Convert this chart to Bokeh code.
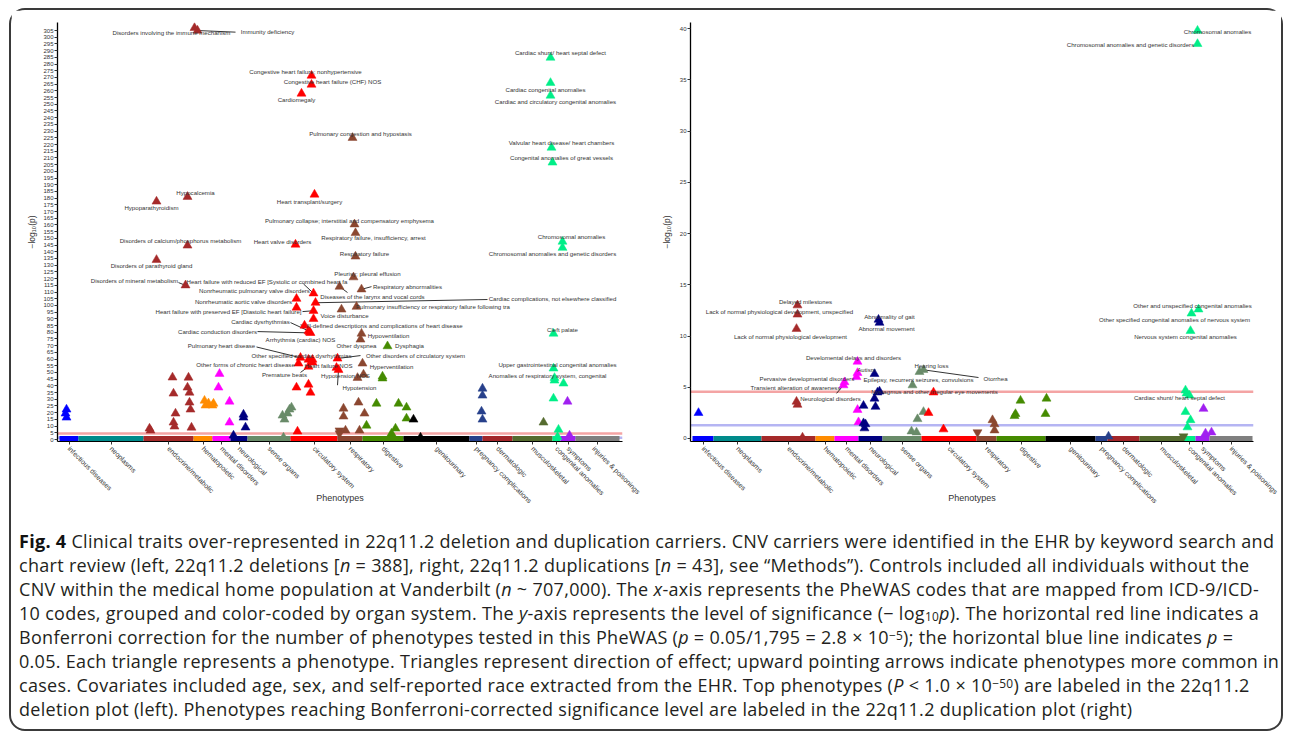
import math
from bokeh.plotting import figure
from bokeh.models import ColumnDataSource, FixedTicker, Span, Div, Range1d
from bokeh.layouts import row, column
from bokeh.embed import file_html
from bokeh.resources import INLINE
from bokeh.core.properties import value

# ---------------- data ----------------
CATEGORIES = ["infectious diseases", "neoplasms", "endocrine/metabolic", "hematopoietic",
              "mental disorders", "neurological", "sense organs", "circulatory system",
              "respiratory", "digestive", "genitourinary", "pregnancy complications",
              "dermatologic", "musculoskeletal", "congenital anomalies", "symptoms",
              "injuries & poisonings"]
CAT_COLORS = ["#0000FF", "#008B8B", "#A52A2A", "#FF8C00", "#FF00FF", "#000080", "#698B69",
              "#FF0000", "#8B4730", "#458B00", "#000000", "#27408B", "#A3262A", "#556B2F",
              "#00EE88", "#A020F0", "#7F7F7F"]

# phenotype-order span of each organ system block (deletion / duplication PheWAS)
DEL_BLOCK_START = [2, 21, 86, 136, 155, 173, 190, 233, 280, 305, 346, 412, 425, 455, 495, 503, 518]
DEL_BLOCK_END = [21, 86, 136, 155, 173, 190, 233, 280, 305, 346, 412, 425, 455, 495, 503, 518, 562]
DUP_BLOCK_START = [2, 23, 71, 125, 144, 168, 192, 231, 286, 306, 355, 405, 417, 449, 493, 505, 519]
DUP_BLOCK_END = [23, 71, 125, 144, 168, 192, 231, 286, 306, 355, 405, 417, 449, 493, 505, 519, 562]

# 22q11.2 deletion: labeled top phenotypes
DEL_TOP_NAMES = [
    "Disorders involving the immune mechanism", "Immunity deficiency",
    "Congestive heart failure; nonhypertensive", "Congestive heart failure (CHF) NOS",
    "Cardiomegaly", "Pulmonary congestion and hypostasis", "Cardiac shunt/ heart septal defect",
    "Cardiac congenital anomalies", "Cardiac and circulatory congenital anomalies",
    "Valvular heart disease/ heart chambers", "Congenital anomalies of great vessels",
    "Hypocalcemia", "Hypoparathyroidism", "Heart transplant/surgery",
    "Pulmonary collapse; interstitial and compensatory emphysema",
    "Respiratory failure, insufficiency, arrest", "Heart valve disorders",
    "Disorders of calcium/phosphorus metabolism", "Chromosomal anomalies",
    "Chromosomal anomalies and genetic disorders", "Disorders of parathyroid gland",
    "Respiratory failure", "Pleurisy; pleural effusion", "Disorders of mineral metabolism",
    "Heart failure with reduced EF [Systolic or combined heart fa", "Respiratory abnormalities",
    "Diseases of the larynx and vocal cords", "Nonrheumatic pulmonary valve disorders",
    "Nonrheumatic aortic valve disorders", "Cardiac complications, not elsewhere classified",
    "Pulmonary insufficiency or respiratory failure following tra",
    "Heart failure with preserved EF [Diastolic heart failure]", "Voice disturbance",
    "Cardiac dysrhythmias", "Ill-defined descriptions and complications of heart disease",
    "Cardiac conduction disorders", "Arrhythmia (cardiac) NOS", "Hypoventilation",
    "Other dyspnea", "Dysphagia", "Pulmonary heart disease",
    "Other specified cardiac dysrhythmias", "Other disorders of circulatory system",
    "Other forms of chronic heart disease", "Heart failure NOS", "Hyperventilation",
    "Premature beats", "Hypotension NOS", "Hypotension", "Cleft palate",
    "Upper gastrointestinal congenital anomalies", "Anomalies of respiratory system, congenital"]
DEL_TOP_POS = [137, 140, 254, 254, 244, 295, 493, 493, 493, 494, 495, 130, 99, 257, 297, 298,
               238, 130, 505, 505, 99, 298, 296, 128, 256, 304, 282, 239, 239, 258, 299, 256,
               284, 251, 247, 253, 252, 304, 303, 330, 243, 255, 280, 241, 255, 305, 251, 279,
               281, 496, 496, 497]
DEL_TOP_LOGP = [307, 305, 271.4, 264.7, 258, 225, 284.8, 266, 256.5, 217.7, 206.6, 181, 177.5,
                182.7, 160.5, 154, 145.4, 144.7, 147.6, 143, 134, 136.5, 121, 115, 109, 112,
                114, 105, 98.4, 102, 99, 96, 97, 81, 85, 79.5, 80, 79, 74.6, 69.6, 61, 59.6,
                60.4, 56.7, 57.5, 56.7, 54.4, 53.5, 52, 79, 53, 46]
DEL_TOP_GROUP = [2, 2, 7, 7, 7, 8, 14, 14, 14, 14, 14, 2, 2, 7, 8, 8, 7, 2, 14, 14, 2, 8, 8, 2,
                 7, 8, 8, 7, 7, 7, 8, 7, 8, 7, 7, 7, 7, 8, 8, 9, 7, 7, 7, 7, 7, 8, 7, 7, 7,
                 14, 14, 14]

# 22q11.2 deletion: remaining phenotypes above the baseline
DEL_OTHER_POS = [9, 9, 8, 92, 93, 115, 116, 118, 116, 117, 131, 130, 132, 132, 133, 134,
                 147, 148, 155, 156, 151, 162, 161, 172, 172, 186, 186, 188, 176,
                 234, 230, 225, 227, 232, 226, 239, 251, 253, 240, 256, 251,
                 286, 286, 301, 307, 302, 288, 282, 282, 300, 306,
                 319, 341, 349, 349, 309, 338, 334, 325, 325, 356, 363,
                 425, 425, 424, 425, 486, 497, 506, 496, 501, 500, 510, 512]
DEL_OTHER_LOGP = [22.4, 16.4, 19.4, 8.2, 6.7, 46.3, 34.3, 19.4, 12.7, 9.7, 46.2, 38.8, 35,
                  27.6, 22.4, 8.9, 29, 25.4, 25.4, 26.8, 27, 49, 38.8, 28.3, 12.7,
                  18.6, 16.4, 9, 3, 23.9, 19.4, 17.9, 14.9, 22.4, 1.5, 38.8, 41, 35, 6, 90, 59.6,
                  23.1, 17.2, 27.6, 19.4, 6.7, 6.7, 6.7, 4.5, 46, 48.5,
                  26.8, 26.8, 23.9, 15.7, 10.4, 8.2, 4.5, 47, 45.6, 14.9, 1.5,
                  38, 32.8, 20.9, 14.9, 12.7, 44, 41.8, 30.6, 7.4, 2, 28.3, 3]
DEL_OTHER_GROUP = [0, 0, 0, 2, 2, 2, 2, 2, 2, 2, 2, 2, 2, 2, 2, 2, 3, 3, 3, 3, 3, 4, 4, 4, 4,
                   5, 5, 5, 5, 6, 6, 6, 6, 6, 6, 7, 7, 7, 7, 7, 7, 8, 8, 8, 8, 8, 8, 8, 8, 8, 8,
                   9, 9, 9, 9, 9, 9, 9, 9, 9, 10, 10, 11, 11, 11, 11, 13, 14, 14, 14, 14, 14,
                   15, 15]
DEL_OTHER_DIR = ["up", "up", "up", "up", "up", "up", "up", "up", "up", "up",
                 "up", "up", "up", "up", "up", "up", "up", "up", "up", "up", "up", "up",
                 "up", "up", "up", "up", "up", "up", "up", "up", "up", "up", "up", "up",
                 "up", "up", "up", "up", "up", "up", "up", "up", "up", "up", "up", "up",
                 "up", "down", "down", "up", "up", "up", "up", "up", "up", "up", "up",
                 "up", "up", "up", "up", "up", "up", "up", "up", "up", "up", "up", "up",
                 "up", "up", "up", "up", "up"]

# 22q11.2 duplication: Bonferroni-significant (labeled) phenotypes
DUP_TOP_NAMES = [
    "Chromosomal anomalies", "Chromosomal anomalies and genetic disorders", "Delayed milestones",
    "Lack of normal physiological development, unspecified",
    "Lack of normal physiological development", "Abnormality of gait", "Abnormal movement",
    "Develomental delays and disorders", "Autism", "Pervasive developmental disorders",
    "Hearing loss", "Otorrhea", "Epilepsy, recurrent seizures, convulsions",
    "Transient alteration of awareness", "Neurological disorders",
    "Nystagmus and other irregular eye movements", "Other and unspecified congenital anomalies",
    "Other specified congenital anomalies of nervous system",
    "Nervous system congenital anomalies", "Cardiac shunt/ heart septal defect"]
DUP_TOP_POS = [507, 507, 107, 107, 106, 188, 189, 167, 167, 166, 229, 233, 184, 154, 153, 187,
               508, 501, 500, 495]
DUP_TOP_LOGP = [39.8, 38.5, 13, 12.1, 10.7, 11.6, 11.3, 7.5, 6.4, 6.0, 6.5, 6.7, 6.3, 5.5, 5.2,
                4.5, 12.6, 12.2, 10.5, 4.7]
DUP_TOP_GROUP = [14, 14, 2, 2, 2, 5, 5, 4, 4, 4, 6, 6, 5, 4, 4, 5, 14, 14, 14, 14]

DUP_OTHER_POS = [8, 106, 107, 112, 167, 168, 173, 184, 185, 173, 174, 175, 189,
                 233, 227, 221, 226, 222, 238, 253, 243, 302, 304, 304, 287,
                 330, 325, 324, 356, 355, 418, 493, 495, 500, 497, 496, 499, 513, 515, 521]
DUP_OTHER_LOGP = [2.5, 3.6, 3.3, 0.1, 2.8, 1.6, 3.2, 3.9, 3.1, 1.5, 1.0, 1.4, 4.6,
                  2.6, 1.9, 0.7, 0.6, 5.2, 2.5, 0.9, 4.5, 1.8, 1.4, 0.8, 0.6,
                  3.7, 2.4, 2.2, 3.9, 2.4, 0.2, 0.2, 2.6, 1.8, 1.1, 4.4, 4.2, 2.9, 0.5, 0.6]
DUP_OTHER_GROUP = [0, 2, 2, 2, 4, 4, 5, 5, 5, 5, 5, 5, 5, 6, 6, 6, 6, 6, 7, 7, 7, 8, 8, 8, 8,
                   9, 9, 9, 9, 9, 11, 13, 14, 14, 14, 14, 14, 15, 15, 15]
DUP_OTHER_DIR = ["up", "up", "up", "up", "up", "up", "up", "up", "up", "up", "up", "up", "up",
                 "up", "up", "up", "up", "up", "up", "up", "up", "up", "up", "up", "down",
                 "up", "up", "up", "up", "up", "up", "down", "up", "up", "up", "up", "up",
                 "up", "up", "up"]

DEL_Y_TICKS = list(range(0, 306, 5))
DUP_Y_TICKS = list(range(0, 41, 5))

# significance thresholds
BONFERRONI = -math.log10(0.05 / 1795)
NOMINAL = -math.log10(0.05)

# ---------------- label placement (annotation layout, data units) ----------------
DEL_LABEL_X = [114, 210, 248, 275, 239, 303, 503, 488, 498, 504, 504, 138, 94, 252, 292, 316,
               225, 123, 514, 495, 94, 307, 310, 77, 209.5, 350, 315, 197, 186, 495, 375.5, 171,
               287, 203, 327, 160, 243, 331, 299, 352, 164, 244, 358, 188, 271, 334, 227, 288,
               302, 505, 500, 490]
DEL_LABEL_Y = [303.5, 304.3, 274.4, 267, 253.5, 228.2, 288.6, 261, 252, 221.5, 210.3, 184.2, 173,
               177.5, 163.3, 150.6, 147.6, 148.4, 151.4, 138.7, 129.8, 138.7, 123.8, 118.6,
               117.8, 114.1, 106.6, 111.1, 102.9, 105.1, 99.2, 95.4, 92.5, 88, 85, 80.5, 74.6,
               77.6, 70.1, 70.1, 70.1, 62.6, 62.6, 55.9, 55.2, 54.4, 48.5, 47.7, 38.8, 82, 55.9,
               47.7]
DEL_LEADER_NAME = ["Immunity deficiency", "Disorders of mineral metabolism",
                   "Heart failure with reduced EF [Systolic or combined heart fa",
                   "Respiratory abnormalities", "Diseases of the larynx and vocal cords",
                   "Cardiac complications, not elsewhere classified",
                   "Heart failure with preserved EF [Diastolic heart failure]",
                   "Cardiac dysrhythmias",
                   "Ill-defined descriptions and complications of heart disease",
                   "Cardiac conduction disorders", "Pulmonary heart disease",
                   "Other disorders of circulatory system", "Premature beats", "Hypotension"]
DEL_LEADER_X = [178, 121, 246, 314, 290, 430, 245, 233, 243, 200, 199, 303, 243, 280]
DEL_LEADER_Y = [303.8, 117, 116, 114, 109.6, 104.4, 95.4, 87.2, 85.5, 80.5, 69, 62.6, 50, 40.5]

DUP_LABEL_X = [527, 440, 115, 89, 100, 199, 196, 163, 176, 116.5, 241, 305, 228, 105, 140, 244,
               502, 484, 495, 489]
DUP_LABEL_Y = [39.7, 38.4, 13.4, 12.4, 10.0, 11.9, 10.7, 7.9, 6.7, 5.85, 7.1, 5.85, 5.75, 5.0,
               3.9, 4.6, 13.0, 11.6, 9.95, 4.0]
DUP_LEADER_NAME = ["Otorrhea", "Neurological disorders"]
DUP_LEADER_X = [288, 146]
DUP_LEADER_Y = [5.95, 4.4]

FONT = "Liberation Sans"
TXT = "#333333"
FRAME_H = 419
FIG_H = 512


def build(width, mb_left, mb_right, x_end, y_lo, y_hi, y_ticks, blk_s, blk_e,
          names, pos, logp, grp, lab_x, lab_y, lead_names, lead_x, lead_y,
          o_pos, o_logp, o_grp, o_dir, ylab_standoff):
    p = figure(width=width, height=FIG_H, x_range=Range1d(0, x_end), y_range=Range1d(y_lo, y_hi),
               output_backend="svg", toolbar_location=None,
               min_border_left=mb_left, min_border_right=mb_right,
               min_border_top=12, min_border_bottom=FIG_H - 12 - FRAME_H,
               background_fill_color="white", border_fill_color="white",
               outline_line_color=None)
    p.grid.visible = False
    ppu = FRAME_H / (y_hi - y_lo)

    p.add_layout(Span(location=NOMINAL, dimension="width", line_color="#b5b5f3",
                      line_width=2.5, level="underlay"))
    p.add_layout(Span(location=BONFERRONI, dimension="width", line_color="#f4a4a4",
                      line_width=2.5, level="underlay"))

    # dense baseline of non-significant phenotypes, one block per organ system
    p.quad(left=blk_s, right=blk_e, bottom=y_lo, top=y_lo + 5.5 / ppu,
           fill_color=CAT_COLORS, line_color=None)

    xs = list(o_pos) + list(pos)
    ys = list(o_logp) + list(logp)
    gs = list(o_grp) + list(grp)
    ds = list(o_dir) + ["up"] * len(pos)
    src = ColumnDataSource(dict(
        x=xs, y=ys, color=[CAT_COLORS[g] for g in gs],
        marker=["triangle" if d == "up" else "inverted_triangle" for d in ds]))

    # leader lines from label to its point
    idx = {n: i for i, n in enumerate(names)}
    p.segment(x0=lead_x, y0=lead_y,
              x1=[pos[idx[n]] for n in lead_names], y1=[logp[idx[n]] for n in lead_names],
              line_color="black", line_width=0.8)

    p.scatter(x="x", y="y", marker="marker", size=9, fill_color="color", line_color="color",
              line_width=0.5, source=src)

    p.text(x=lab_x, y=lab_y, text=names, text_font=value(FONT), text_font_size=value("6.1px"),
           text_color=TXT, text_align="center", text_baseline="middle")

    mids = [(s + e) / 2 for s, e in zip(blk_s, blk_e)]
    xa = p.xaxis[0]
    xa.ticker = FixedTicker(ticks=mids)
    xa.major_label_overrides = {m: c for m, c in zip(mids, CATEGORIES)}
    xa.major_label_orientation = -math.pi / 4
    xa.major_label_text_font = FONT
    xa.major_label_text_font_size = "7px"
    xa.major_label_text_color = TXT
    xa.major_label_standoff = 3
    xa.major_tick_out = 3
    xa.major_tick_in = 0
    xa.minor_tick_line_color = None
    xa.axis_line_color = "black"
    xa.axis_line_width = 1
    xa.major_tick_line_color = "#333333"
    xa.axis_label = "Phenotypes"
    xa.axis_label_text_font = FONT
    xa.axis_label_text_font_size = "9px"
    xa.axis_label_text_font_style = "normal"
    xa.axis_label_text_color = TXT
    xa.axis_label_standoff = -17

    ya = p.yaxis[0]
    ya.ticker = FixedTicker(ticks=y_ticks)
    ya.major_label_text_font = FONT
    ya.major_label_text_font_size = "6px"
    ya.major_label_text_color = TXT
    ya.major_label_standoff = 1
    ya.major_tick_out = 3
    ya.major_tick_in = 0
    ya.minor_tick_line_color = None
    ya.axis_line_color = "black"
    ya.axis_line_width = 1.3
    ya.major_tick_line_color = "#333333"
    ya.axis_label = "\u2212log\u2081\u2080(p)"
    ya.axis_label_text_font = FONT
    ya.axis_label_text_font_size = "8.5px"
    ya.axis_label_text_font_style = "normal"
    ya.axis_label_text_color = TXT
    ya.axis_label_standoff = ylab_standoff
    return p


p_del = build(630, 46, 19, 565, -1.49, 311.0, DEL_Y_TICKS, DEL_BLOCK_START, DEL_BLOCK_END,
              DEL_TOP_NAMES, DEL_TOP_POS, DEL_TOP_LOGP, DEL_TOP_GROUP, DEL_LABEL_X, DEL_LABEL_Y,
              DEL_LEADER_NAME, DEL_LEADER_X, DEL_LEADER_Y,
              DEL_OTHER_POS, DEL_OTHER_LOGP, DEL_OTHER_GROUP, DEL_OTHER_DIR, 3)
p_dup = build(640, 49, 28, 563, -0.293, 40.59, DUP_Y_TICKS, DUP_BLOCK_START, DUP_BLOCK_END,
              DUP_TOP_NAMES, DUP_TOP_POS, DUP_TOP_LOGP, DUP_TOP_GROUP, DUP_LABEL_X, DUP_LABEL_Y,
              DUP_LEADER_NAME, DUP_LEADER_X, DUP_LEADER_Y,
              DUP_OTHER_POS, DUP_OTHER_LOGP, DUP_OTHER_GROUP, DUP_OTHER_DIR, 5)

SUP = ("<span style='font-size:66%;position:relative;top:-0.3em;line-height:1;"
       "display:inline-block'>{}</span>")
SUB = ("<span style='font-size:66%;position:relative;top:0.1em;line-height:1;"
       "display:inline-block'>{}</span>")
CAPTION_LINES = [
    "<b style='color:#111'>Fig. 4</b> Clinical traits over-represented in 22q11.2 deletion and duplication carriers. CNV carriers were identified in the EHR by keyword search and",
    "chart review (left, 22q11.2 deletions [<i>n</i> = 388], right, 22q11.2 duplications [<i>n</i> = 43], see \u201cMethods\u201d). Controls included all individuals without the",
    "CNV within the medical home population at Vanderbilt (<i>n</i> ~ 707,000). The <i>x</i>-axis represents the PheWAS codes that are mapped from ICD-9/ICD-",
    "10 codes, grouped and color-coded by organ system. The <i>y</i>-axis represents the level of significance (\u2212 log" + SUB.format("10") + "<i>p</i>). The horizontal red line indicates a",
    "Bonferroni correction for the number of phenotypes tested in this PheWAS (<i>p</i> = 0.05/1,795 = 2.8 \u00d7 10" + SUP.format("\u22125") + "); the horizontal blue line indicates <i>p</i> =",
    "0.05. Each triangle represents a phenotype. Triangles represent direction of effect; upward pointing arrows indicate phenotypes more common in",
    "cases. Covariates included age, sex, and self-reported race extracted from the EHR. Top phenotypes (<i>P</i> &lt; 1.0 \u00d7 10" + SUP.format("\u221250") + ") are labeled in the 22q11.2",
    "deletion plot (left). Phenotypes reaching Bonferroni-corrected significance level are labeled in the 22q11.2 duplication plot (right)",
]
cap_html = "".join("<div style='white-space:nowrap;height:24px;line-height:24px'>%s</div>" % l
                   for l in CAPTION_LINES)
caption = Div(text=cap_html, width=1258, height=200, margin=(7, 0, 0, 8),
              styles={"font-family": "Open Sans", "font-size": "18px", "color": "#231f20",
                      "letter-spacing": "0.3px"})

top = row(p_del, p_dup)
root = column(top, caption, margin=(8, 0, 0, 9),
              styles={"border": "2px solid #3a3a3a", "border-radius": "16px",
                      "background-color": "white"})

open("out.html", "w").write(file_html(root, INLINE))
